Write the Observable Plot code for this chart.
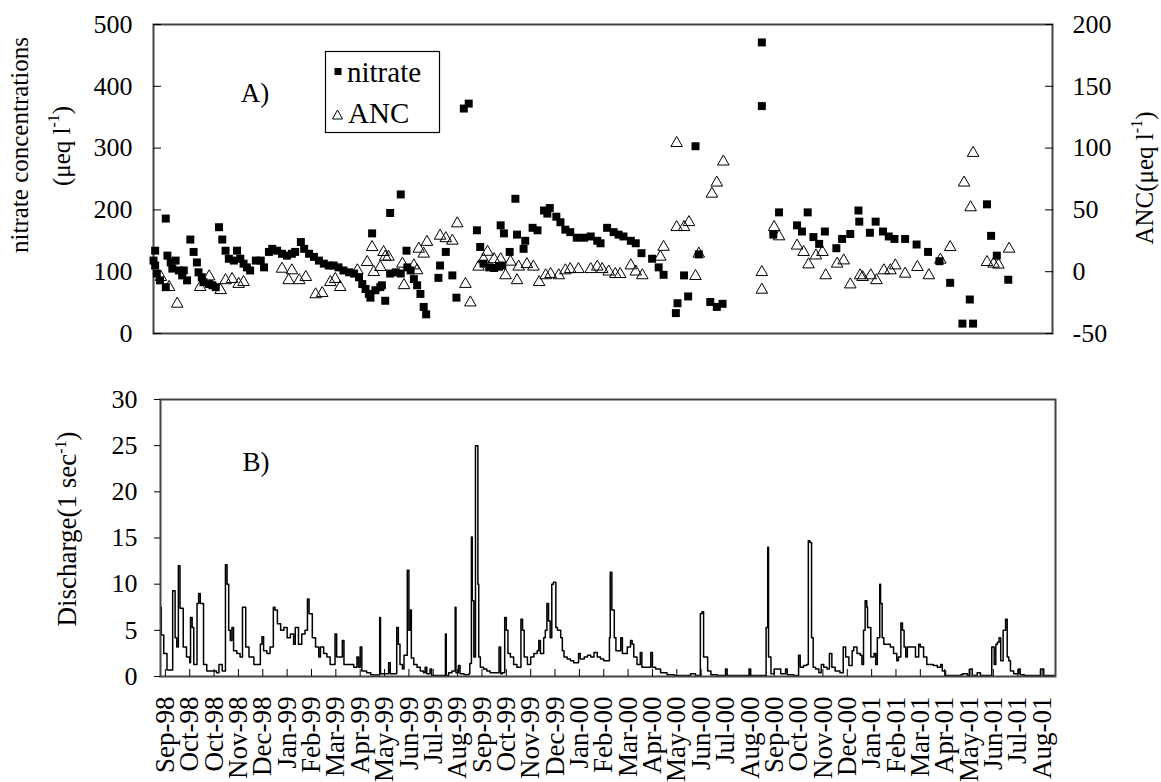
<!DOCTYPE html>
<html><head><meta charset="utf-8">
<script src="https://cdn.jsdelivr.net/npm/d3@7"></script>
<script src="https://cdn.jsdelivr.net/npm/@observablehq/plot@0.6"></script>
<style>
body{margin:0;background:#fff;}
#chart{position:relative;width:1161px;height:782px;font-family:"Liberation Serif","Times New Roman",serif;color:#000;overflow:hidden;background:#fff}
.lbl{position:absolute;white-space:nowrap;line-height:1;}
.rot{transform:translate(-50%,-50%) rotate(-90deg);}
.sup{font-size:16px;vertical-align:0.65em;}
#topPanel,#bottomPanel{position:absolute;left:0;}
#topPanel{top:0}
#bottomPanel{top:345px}
</style>
</head><body>
<div id="chart">
  <div id="topPanel"></div>
  <div id="bottomPanel"></div>
  <div class="lbl rot" style="left:19px;top:145px;font-size:25px">nitrate concentrations</div>
  <div class="lbl rot" style="left:60px;top:146px;font-size:25px">(μeq l<span class="sup">-1</span>)</div>
  <div class="lbl rot" style="left:1143px;top:178px;font-size:25px">ANC(μeq l<span class="sup">-1</span>)</div>
  <div class="lbl rot" style="left:67px;top:529px;font-size:27px">Discharge(1 sec<span class="sup">-1</span>)</div>
  <div class="lbl" style="left:255px;top:93px;font-size:27px;transform:translate(-50%,-50%)">A)</div>
  <div class="lbl" style="left:256px;top:462px;font-size:27px;transform:translate(-50%,-50%)">B)</div>
  <svg style="position:absolute;left:325px;top:51px;overflow:visible" width="115" height="82">
    <rect x="0.5" y="0.5" width="114" height="81" fill="white" stroke="black" stroke-width="1.2"/>
    <rect x="9.5" y="17" width="7" height="7" fill="black"/>
    <path d="M12.5,59 L17.5,68 L7.5,68 Z" fill="none" stroke="black" stroke-width="1"/>
    <text x="22" y="31" font-size="29" font-family="Liberation Serif">nitrate</text>
    <text x="23" y="72" font-size="29" font-family="Liberation Serif">ANC</text>
  </svg>
</div>
<script>
// ---- Panel A data: [day since 1 Sep 1998, value] ----
const nitrate = [
[0,118],[2,134],[2,110],[4,97],[8,86],[15,75],[15,186],[17,126],[21,115],[23,105],[27,118],[31,102],[35,94],[37,102],[41,86],[45,152],[49,132],[53,115],[55,99],[59,91],[61,83],[68,80],[72,78],[76,75],[80,172],[84,152],[88,134],[92,121],[98,118],[102,134],[106,121],[110,113],[114,107],[118,102],[125,118],[131,118],[135,107],[141,132],[145,137],[151,134],[157,129],[163,126],[169,129],[173,132],[180,148],[184,137],[190,129],[196,124],[202,118],[208,113],[214,110],[220,110],[226,107],[232,102],[239,99],[245,97],[251,91],[255,80],[259,72],[263,64],[265,58],[267,162],[271,70],[277,75],[279,78],[283,53],[289,97],[289,195],[296,99],[302,97],[302,225],[309,134],[310,107],[314,102],[318,88],[322,78],[326,64],[330,43],[333,31],[348,90],[350,110],[357,132],[365,94],[370,58],
[379,364],[385,372],[395,167],[399,140],[403,113],[410,107],[416,106],[422,108],[424,175],[426,110],[428,162],[435,132],[442,218],[444,160],[452,137],[454,150],[463,171],[469,167],[477,199],[481,194],[484,203],[492,189],[497,180],[503,168],[509,164],[517,155],[526,155],[534,157],[542,150],[546,146],[554,171],[562,164],[568,160],[574,157],[583,150],[589,146],[596,130],[609,121],[617,107],[623,95],[638,33],[640,49],[648,94],[653,60],[662,303],[666,128],[680,51],[688,43],[695,48],
[743,471],[743,368],[757,160],[764,196],[786,175],[792,165],[799,196],[806,156],[813,145],[820,165],[834,138],[841,153],[851,161],[861,199],[862,181],[875,163],[882,181],[891,165],[898,157],[905,153],[918,153],[932,144],[946,132],[960,117],[973,82],[988,16],[997,55],[1001,16],[1018,209],[1023,158],[1030,126],[1044,87]
];
const anc = [
[9,-4.4],[19,-12.5],[29,-26],[57,-12.5],[68,-3.9],[82,-15],[88,-7],[96,-6],[104,-10],[110,-8.5],[157,2.3],[165,-7],[169,1],[178,-7],[186,-4.4],[198,-18.4],[206,-17.4],[216,-8.5],[222,-6],[228,-12.5],[249,1],[261,7.7],[267,19.8],[269,-0.4],[277,3.7],[281,15.8],[283,12],[287,12],[304,6.4],[306,-11],[318,5],[322,1],[324,18.5],[330,14.5],[334,24],[350,29],[357,27],[365,25],[371,39],
[381,-10],[387,-25],[397,4],[403,10],[408,16],[416,10],[424,10],[430,-3],[436,8],[444,-7],[446,4],[456,6],[464,4],[471,-8.5],[479,-3],[485,-2],[495,-3],[503,1],[509,2],[519,2],[534,2],[542,4],[548,2],[556,0],[564,-2],[570,-2],[583,5],[589,0],[597,-3],[619,12],[623,20],[639,36],[639,104],[648,36],[654,40],[662,-3.6],[666,14.5],[682,63],[688,72],[696,89],
[743,-0.4],[743,-14.7],[758,36],[764,28.5],[786,21],[794,15.8],[800,5.8],[809,13],[817,15.8],[821,-3],[835,6.4],[843,9],[851,-10.4],[863,-3],[866,-4.4],[876,-3],[883,-7],[892,1],[900,1],[906,5],[918,-1.7],[933,3.7],[947,-3],[961,9.6],[973,19.8],[990,72],[998,52],[1001,96],[1018,7.7],[1026,6.4],[1032,5.6],[1045,18.5]
];
const nitrateTicks = [0,100,200,300,400,500];
const ancTicks = [-50,0,50,100,150,200];

// ---- Panel B data: [day, discharge l/s] ----
const discharge = [
[-6,7.5],[-5,4.5],[-2,2.5],[2,0.7],[8,0.7],[9,9.3],[12,4.2],[14,3.2],[16,12],[18,7.4],[22,3.2],[26,2.1],[30,1.5],[31,6.4],[33,5.3],[35,1.3],[39,7.9],[41,9],[43,7.9],[47,1.3],[51,0.6],[63,0.4],[66,1.3],[70,0.6],[74,12.1],[76,10],[78,5],[80,3.9],[82,5.3],[84,2.8],[88,2.5],[92,2.1],[95,7.5],[99,3.2],[103,2.1],[109,1.3],[114,1.3],[117,3.5],[119,4.3],[121,2.8],[125,2.5],[129,3.2],[133,7.5],[135,7.2],[138,5.7],[140,5.7],[142,5],[146,5.3],[150,4.2],[154,4.6],[158,3.5],[160,5.3],[164,3.5],[168,4.6],[172,5],[175,8.4],[177,6.8],[181,4.2],[185,3.2],[189,2.1],[191,3.2],[195,2.5],[199,2.1],[203,1.3],[209,4.6],[211,2.1],[216,2.1],[218,3.9],[220,1.3],[224,1.3],[232,1],[236,2.1],[238,1],[240,3.2],[242,0.6],[248,0.4],[253,0.2],[257,0.15],[264,6.4],[265,0.3],
[273,0.3],[275,1.5],[277,0.3],[285,5.3],[287,3.5],[289,1.3],[292,0.8],[294,2.3],[298,11.5],[300,5],[302,7.2],[303,2],[306,1.3],[310,1],[314,0.6],[318,0.4],[320,1],[322,0.3],[326,0.8],[328,0.1],[335,0.1],[345,4.6],[346,0.1],[349,0.4],[353,0.6],[357,7.5],[358,0.4],[361,1.2],[363,0.3],[368,0.2],[374,0.3],[375,1.4],[377,15.1],[378,8.2],[380,2.1],[382,25],[384,25],[385,10],[386,2.1],[388,1],[392,0.8],[396,0.6],[400,0.4],[407,0.4],[411,3.2],[413,0.3],[415,0.4],[418,6.4],[420,5],[422,2.5],[425,2.1],[429,1.3],[433,1],[438,6.2],[440,5],[442,2.1],[446,1.3],[450,2.1],[454,2.5],[458,2.8],[460,3.9],[462,2.5],[466,4.2],[468,5],[470,7.9],[472,6],[474,4.2],[476,10],[478,10.2],[481,5.3],[483,5],[487,4.2],[489,2.8],[491,2.1],[495,1.9],[499,1.7],[503,1.5],[509,2.5],[511,1.9],[516,2.1],[520,2.3],[524,2.1],[528,2.6],[532,2.1],[536,1.9],[540,1.7],[544,1.7],[547,4.2],[548,11.3],[550,7.2],[553,4.2],[555,2.8],[557,2.8],[561,4.2],[563,2.5],[569,3.2],[573,3.9],[575,3.5],[577,2.1],[581,1.3],[585,2.6],[587,1],[594,1],[598,2.6],[600,1],[604,0.8],[610,0.4],[618,0.2],[627,0.1],[631,0.1],[647,0.3],[653,0.1],[659,6.8],[661,7],[663,2.1],[666,2.1],[668,0.6],[672,0.2],[680,0.1],[690,0.8],[692,0.1],[719,0.8],[721,0.1],[738,0.1],[740,5.3],[742,14],[743,2.1],[746,0.3],[750,0.8],[754,0.8],[758,0.3],
[764,0.8],[766,0.2],[774,0.1],[780,2.3],[782,1],[786,1.2],[790,1.3],[792,14.7],[794,14.5],[796,4.2],[798,1],[801,0.8],[805,0.4],[808,1.3],[811,1],[815,0.8],[818,2.5],[821,1],[825,0.6],[831,0.4],[835,3.2],[838,2.1],[842,1.2],[846,2.8],[848,3.2],[852,2.5],[856,2.3],[858,1.3],[860,5],[862,8.2],[864,7.5],[865,5.3],[869,2.1],[873,2.5],[875,1.3],[877,4.2],[880,10],[881,7.9],[883,4.2],[885,3.5],[889,3.5],[893,3.2],[897,2.5],[901,1.7],[903,2.1],[906,5.8],[908,5],[910,3.2],[912,2.1],[914,3.2],[918,3.2],[922,3.2],[924,2.1],[928,3.5],[930,3.2],[934,2.1],[938,1.3],[942,1.3],[946,1.2],[951,1],[955,1.3],[957,0.6],[961,0.1],[971,0.1],[980,0.2],[982,0.3],[988,0.1],[991,0.8],[994,0.1],[1000,0.4],[1004,0.1],[1016,0.1],[1018,3.2],[1021,1.3],[1023,3.5],[1025,3.7],[1027,4.2],[1029,1.7],[1032,5],[1035,6.2],[1037,2.1],[1039,1.7],[1041,0.6],[1045,0.3],[1051,0.8],[1053,0.2],[1058,0.1],[1076,0.1],[1078,0.8],[1081,0.8],[1082,0.1],[1096,0.1]
];
const dischargeTicks = [0,5,10,15,20,25,30];
const dateTickDays = d3.range(0, 1081, 30);
const dateTickLabels = ["Sep-98","Oct-98","Oct-98","Nov-98","Dec-98","Jan-99","Feb-99","Mar-99","Apr-99","May-99","Jun-99","Jul-99","Aug-99","Sep-99","Oct-99","Nov-99","Dec-99","Jan-00","Feb-00","Mar-00","Apr-00","May-00","Jun-00","Jul-00","Aug-00","Sep-00","Oct-00","Nov-00","Dec-00","Jan-01","Feb-01","Mar-01","Apr-01","May-01","Jun-01","Jul-01","Aug-01"];

const labelByDay = new Map(dateTickDays.map((d, i) => [d, dateTickLabels[i]]));
const fontStyle = {fontFamily: "Liberation Serif, Times New Roman, serif", fontSize: "26px", color: "black", background: "transparent", overflow: "visible"};
const ancToY = a => (a + 50) * 2;

const chartA = Plot.plot({
  width: 1161, height: 345,
  marginLeft: 153, marginRight: 109, marginTop: 24, marginBottom: 12,
  style: fontStyle,
  x: {domain: [0, 1098], axis: null},
  y: {domain: [0, 500], label: null},
  marks: [
    Plot.frame({stroke: "#454545", strokeWidth: 2}),
    Plot.axisY(nitrateTicks, {anchor: "left", tickSize: -8, tickFormat: () => "", label: null}),
    Plot.axisY(nitrateTicks, {anchor: "left", tickSize: 0, tickPadding: 21, tickFormat: d => String(d), label: null}),
    Plot.axisY(ancTicks.map(ancToY), {anchor: "right", tickSize: -8, tickFormat: () => "", label: null}),
    Plot.axisY(ancTicks.map(ancToY), {anchor: "right", tickSize: 0, tickPadding: 20, tickFormat: d => String(d / 2 - 50), label: null}),
    Plot.dot(nitrate, {x: d => d[0], y: d => d[1], symbol: "square", r: 4.5, fill: "black", stroke: null}),
    Plot.dot(anc, {x: d => d[0], y: d => ancToY(d[1]), symbol: "triangle", r: 4.3, fill: "none", stroke: "black", strokeWidth: 1})
  ]
});
document.getElementById("topPanel").appendChild(chartA);

const chartB = Plot.plot({
  width: 1161, height: 437,
  marginLeft: 160, marginRight: 106, marginTop: 54, marginBottom: 106,
  style: fontStyle,
  x: {domain: [-6, 1096.5]},
  y: {domain: [0, 30], label: null},
  marks: [
    Plot.line(discharge, {x: d => d[0], y: d => d[1], curve: "step-after", stroke: "black", strokeWidth: 1.5}),
    Plot.frame({stroke: "#454545", strokeWidth: 2}),
    Plot.axisY(dischargeTicks, {anchor: "left", tickSize: 6, tickPadding: 17, tickFormat: d => String(d), label: null}),
    Plot.axisX(dateTickDays, {anchor: "bottom", tickSize: -7, tickFormat: () => "", label: null}),
    Plot.axisX(dateTickDays, {anchor: "bottom", tickSize: 0, tickPadding: 20, tickRotate: -90, tickFormat: d => labelByDay.get(d), label: null, fontSize: 27})
  ]
});
document.getElementById("bottomPanel").appendChild(chartB);
</script>
</body></html>
